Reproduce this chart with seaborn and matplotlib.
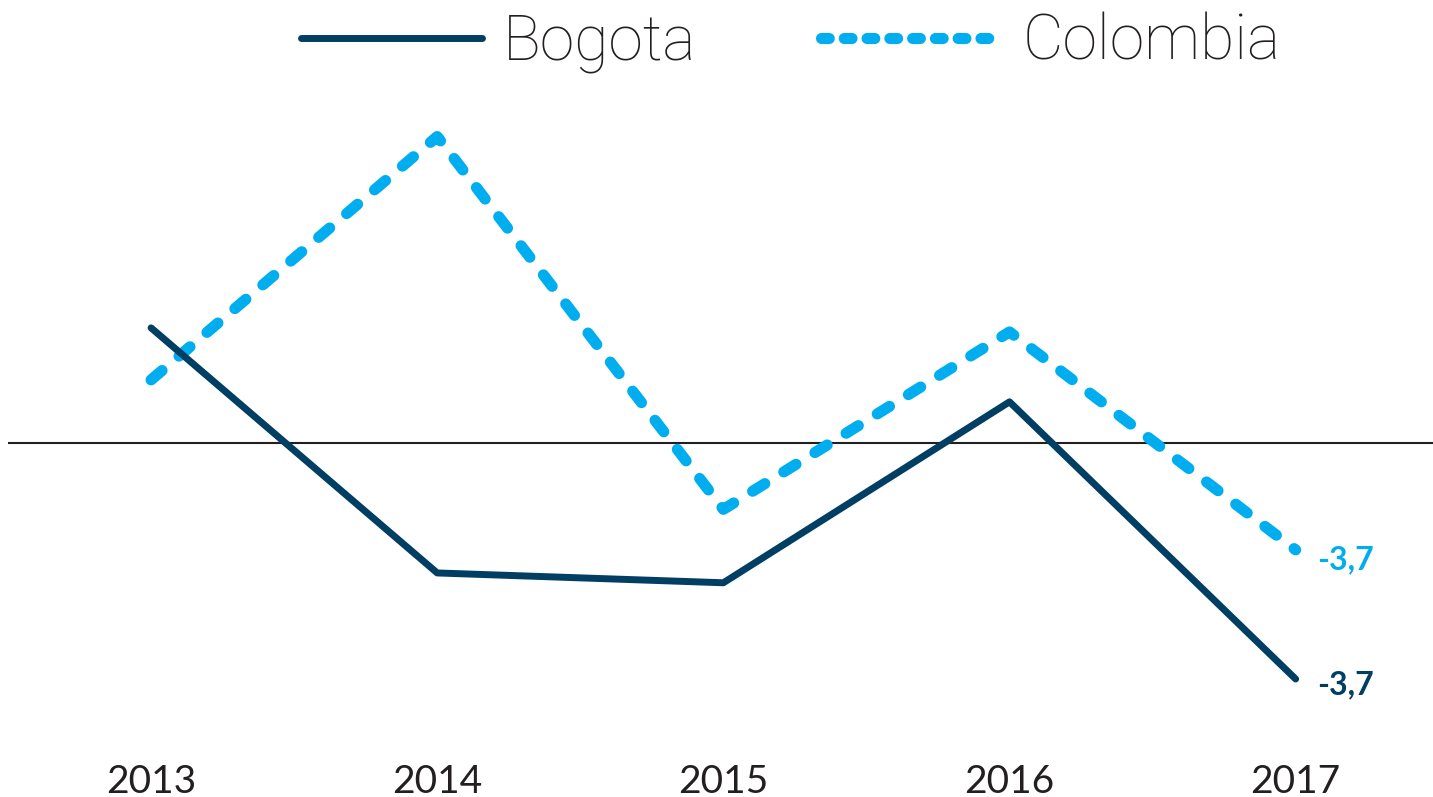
import pandas as pd
import matplotlib.pyplot as plt
import seaborn as sns

# values (same scale for both series)
years = [2013, 2014, 2015, 2016, 2017]
bogota = [3.98, -4.5, -4.84, 1.42, -8.17]
colombia = [2.18, 10.6, -2.3, 3.84, -3.7]
end_labels = ["-3,7", "-3,7"]

navy = "#003f63"
sky = "#00aeef"

sns.set_style("white")
plt.rcParams['font.family'] = ['Lato', 'DejaVu Sans']

df = pd.DataFrame({"year": years, "Bogota": bogota, "Colombia": colombia})

fig = plt.figure(figsize=(14.33, 7.97), dpi=100)
ax = fig.add_axes([8 / 1433, 1 - 740 / 797, 1 - 8 / 1433, 650 / 797])

ax.axhline(0, color="#231f20", lw=1.5, zorder=1)

sns.lineplot(data=df, x="year", y="Bogota", ax=ax, color=navy, lw=5,
             solid_capstyle="round", label="Bogota", zorder=3)
sns.lineplot(data=df, x="year", y="Colombia", ax=ax, color=sky, lw=8,
             dashes=False, label="Colombia", zorder=2)
col_line = ax.lines[-1]
col_line.set_dashes((1.3, 2.0))
col_line.set_dash_capstyle("round")

ax.text(2017.075, colombia[-1] - 0.35, end_labels[1], color=sky, fontsize=23,
        fontweight="bold", va="center", ha="left")
ax.text(2017.075, bogota[-1] - 0.2, end_labels[0], color=navy, fontsize=23,
        fontweight="bold", va="center", ha="left")

ax.set_xlim(2012.5, 2017.48)
ax.set_ylim(-10.28, 12.21)
ax.set_xticks(years)
ax.set_xticklabels([str(y) for y in years], fontsize=28, color="#231f20")
ax.tick_params(axis="x", length=0, pad=17)
ax.set_yticks([])
ax.set_xlabel("")
ax.set_ylabel("")
sns.despine(ax=ax, left=True, bottom=True)

handles, labels = ax.get_legend_handles_labels()
ax.get_legend().remove()
leg = fig.legend(handles, labels, loc="upper center", ncol=2, frameon=False,
                 bbox_to_anchor=(0.552, 1.055), handlelength=2.9,
                 handletextpad=0.33, columnspacing=2.0,
                 prop={"family": ["Roboto", "DejaVu Sans"], "weight": "light",
                       "size": 45})
for t in leg.get_texts():
    t.set_color("#231f20")
for h in leg.legend_handles:
    h.set_solid_capstyle("round")
    h.set_dash_capstyle("round")
    if h.get_color() == sky:
        h.set_dashes((0.7, 1.35))

fig.savefig("out.png", dpi=100)
